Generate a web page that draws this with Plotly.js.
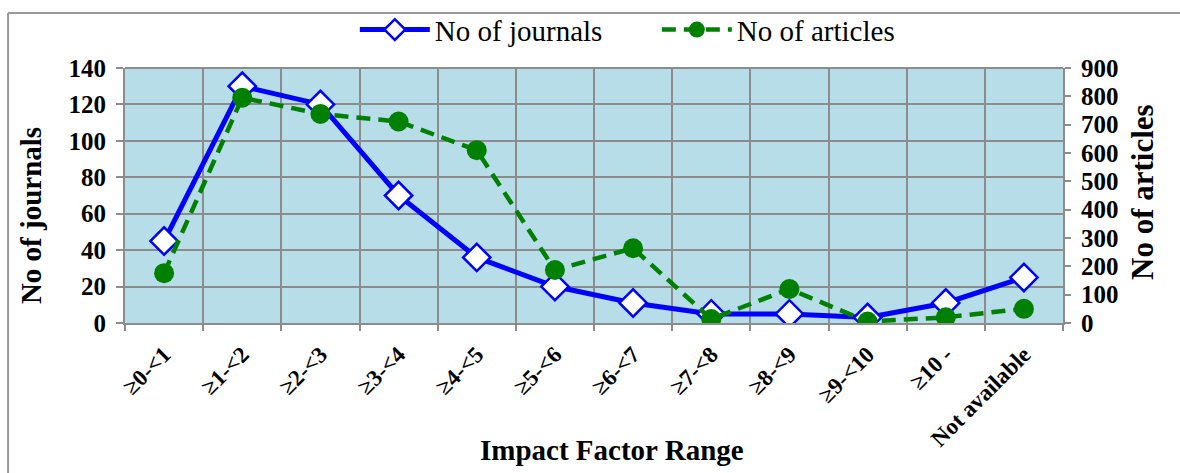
<!DOCTYPE html>
<html>
<head>
<meta charset="utf-8">
<script src="https://cdn.plot.ly/plotly-3.0.1.min.js"></script>
<style>html,body{margin:0;padding:0;background:#fff;}</style>
</head>
<body>
<div id="chart" style="width:1180px;height:473px;"></div>
<script>
const categories = ["≥0-<1","≥1-<2","≥2-<3","≥3-<4","≥4-<5","≥5-<6","≥6-<7","≥7-<8","≥8-<9","≥9-<10","≥10 -","Not available"];
const journals = [45, 130, 120, 70, 36, 20, 11, 5, 5, 3, 11, 25];
const articles = [176, 795, 738, 711, 610, 187, 264, 14, 120, 5, 20, 50];
const leftTicks = [0, 20, 40, 60, 80, 100, 120, 140];
const rightTicks = [0, 100, 200, 300, 400, 500, 600, 700, 800, 900];
const xTitle = "Impact Factor Range";
const yTitle = "No of journals";
const y2Title = "No of articles";

const serif = "'Liberation Serif', 'Times New Roman', serif";
const gridCol = "#8c8c8c";

const traces = [
  {
    x: categories, y: journals, name: "No of journals", type: "scatter", mode: "lines+markers",
    line: {color: "#0000ff", width: 5},
    marker: {symbol: "diamond", size: 21, color: "#ffffff", line: {color: "#0000ff", width: 2.5}},
    xaxis: "x", yaxis: "y"
  },
  {
    x: categories, y: articles, name: "No of articles", type: "scatter", mode: "lines+markers",
    line: {color: "#008000", width: 4.5, dash: "14px,8px"},
    marker: {symbol: "circle", size: 20, color: "#008000"},
    xaxis: "x", yaxis: "y2"
  }
];

const layout = {
  width: 1180, height: 473,
  margin: {l: 125, r: 117, t: 68, b: 150, autoexpand: false},
  paper_bgcolor: "#ffffff",
  plot_bgcolor: "#b7dde8",
  showlegend: true,
  legend: {
    orientation: "h", x: 0.567, xanchor: "center", y: 1.15, yanchor: "middle",
    font: {family: serif, size: 29, color: "#000"},
    itemwidth: 70, entrywidth: 217, entrywidthmode: "pixels",
    bgcolor: "rgba(0,0,0,0)", tracegroupgap: 0
  },
  xaxis: {
    type: "category",
    range: [-0.5, categories.length - 0.5],
    tickson: "boundaries",
    showgrid: true, gridcolor: gridCol, gridwidth: 2,
    showline: true, linecolor: gridCol, linewidth: 2,
    ticks: "outside", ticklen: 6, tickcolor: gridCol, tickwidth: 2,
    tickangle: -45,
    ticklabelstandoff: 7,
    tickfont: {family: serif, size: 23, color: "#000", weight: "bold"},
    fixedrange: true
  },
  yaxis: {
    range: [0, 140], tickvals: leftTicks,
    showgrid: true, gridcolor: gridCol, gridwidth: 2,
    showline: true, linecolor: gridCol, linewidth: 2, mirror: false,
    ticks: "outside", ticklen: 7, tickcolor: gridCol, tickwidth: 2,
    ticklabelstandoff: 5,
    tickfont: {family: serif, size: 25, color: "#000", weight: "bold"},
    zeroline: false, fixedrange: true
  },
  yaxis2: {
    range: [0, 900], tickvals: rightTicks,
    overlaying: "y", side: "right",
    showgrid: false,
    showline: true, linecolor: gridCol, linewidth: 2,
    ticks: "outside", ticklen: 6, tickcolor: gridCol, tickwidth: 2,
    ticklabelstandoff: 5,
    tickfont: {family: serif, size: 25, color: "#000", weight: "bold"},
    zeroline: false, fixedrange: true
  },
  annotations: [
    {text: "<b>" + xTitle + "</b>", xref: "paper", yref: "paper", x: 0.519, y: -0.498, xanchor: "center", yanchor: "middle", showarrow: false, font: {family: serif, size: 29, color: "#000"}},
    {text: "<b>" + yTitle + "</b>", xref: "paper", yref: "paper", x: -0.1, y: 0.42, xanchor: "center", yanchor: "middle", textangle: -90, showarrow: false, font: {family: serif, size: 29, color: "#000"}},
    {text: "<b>" + y2Title + "</b>", xref: "paper", yref: "paper", x: 1.0853, y: 0.514, xanchor: "center", yanchor: "middle", textangle: -90, showarrow: false, font: {family: serif, size: 31, color: "#000"}}
  ],
  shapes: [
    {type: "line", xref: "paper", yref: "paper", x0: -0.1247, x1: 1.13, y0: 1.2157, y1: 1.2157, line: {color: "#999999", width: 2}},
    {type: "line", xref: "paper", yref: "paper", x0: -0.1247, x1: -0.1247, y0: 1.2157, y1: -0.6, line: {color: "#999999", width: 2}},
    {type: "line", xref: "paper", yref: "paper", x0: 0, x1: 1, y0: 1, y1: 1, line: {color: gridCol, width: 2}}
  ]
};

Plotly.newPlot("chart", traces, layout, {displayModeBar: false, staticPlot: true});
</script>
</body>
</html>
